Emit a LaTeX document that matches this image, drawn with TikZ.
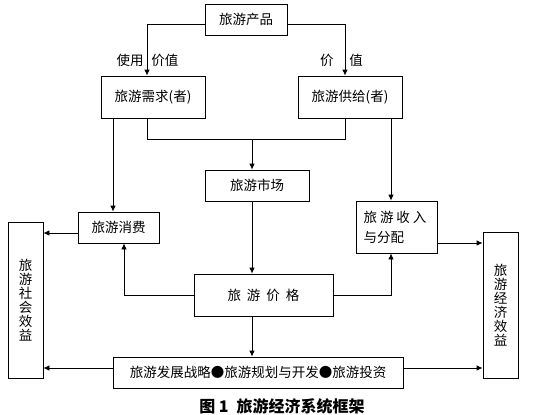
\documentclass[tikz,border=0pt]{standalone}
\usepackage{fontspec}
\setmainfont{Noto Sans CJK SC}
\usetikzlibrary{arrows.meta}
\newcommand{\gap}[1]{\hspace{#1pt}}

\begin{document}
\begin{tikzpicture}[x=1pt,y=-1pt,line width=.8pt,>={Latex[length=6pt,width=5.5pt]},
  box/.style={draw,inner sep=0pt,font=\fontsize{13.5}{15}\selectfont},
  lbl/.style={inner sep=0pt,font=\fontsize{13.5}{15}\selectfont}]
\useasboundingbox (0,0) rectangle (541,415);
% boxes
\node[box,minimum width=82,minimum height=31] (prod) at (246,19.5) {旅游产品};
\node[box,minimum width=104,minimum height=42] (dem) at (153,97) {旅游需求(者)};
\node[box,minimum width=104,minimum height=42] (sup) at (350,97) {旅游供给(者)};
\node[box,minimum width=104,minimum height=31] (mkt) at (257,185.5) {旅游市场};
\node[box,minimum width=81,minimum height=52,align=left,text width=66,
  font=\fontsize{13.5}{20}\selectfont] (inc) at (396.5,227) {旅\gap{3}游\gap{3}收\gap{3}入\\与分配};
\node[box,minimum width=81,minimum height=31] (cons) at (118.5,227.5) {旅游消费};
\node[box,minimum width=139,minimum height=42] (price) at (263.5,295) {旅\gap{6}游\gap{6}价\gap{6}格};
\node[box,minimum width=290,minimum height=31] (dev) at (258,372.5) {旅游发展战略●旅游规划与开发●旅游投资};
\node[box,minimum width=35,minimum height=156,align=center,
  font=\fontsize{13.5}{14}\selectfont] (soc) at (25.5,300) {旅\\游\\社\\会\\效\\益};
\node[box,minimum width=35,minimum height=146,align=center,
  font=\fontsize{13.5}{14}\selectfont] (eco) at (500.5,305) {旅\\游\\经\\济\\效\\益};
% labels
\node[lbl,anchor=east] (l1) at (144,60) {使用};
\node[lbl,anchor=west] (l2) at (151,60) {价值};
\node[lbl,anchor=east] (l3) at (334,60) {价};
\node[lbl,anchor=west] (l4) at (349,60) {值};
\node[font=\fontsize{16}{16}\selectfont\bfseries] (cap) at (282,406) {图 1\enspace 旅游经济系统框架};
% bends
\coordinate (c1) at (147,24);
\coordinate (c2) at (345,24);
\coordinate (j1) at (147,139);
\coordinate (j2) at (345,139);
\coordinate (j3) at (252,139);
\coordinate (x1) at (113,0);
\coordinate (x2) at (391,0);
\coordinate (p1) at (124,295);
\coordinate (p2) at (391,295);
\coordinate (q1) at (0,233);
\coordinate (q2) at (0,243);
\coordinate (q3) at (0,368);
% connectors
\draw[->] (prod.west |- c1) -- (c1) -- (dem.north -| c1);
\draw[->] (prod.east |- c2) -- (c2) -- (sup.north -| c2);
\draw (dem.south -| j1) -- (j1) -- (j2) -- (sup.south -| j2);
\draw[->] (j3) -- (mkt.north -| j3);
\draw[->] (mkt.south -| j3) -- (price.north -| j3);
\draw[->] (price.south -| j3) -- (dev.north -| j3);
\draw[->] (dem.south -| x1) -- (cons.north -| x1);
\draw[->] (sup.south -| x2) -- (inc.north -| x2);
\draw[->] (price.west) -- (p1) -- (cons.south -| p1);
\draw[->] (price.east) -- (p2) -- (inc.south -| p2);
\draw[->] (cons.west |- q1) -- (soc.east |- q1);
\draw[->] (inc.east |- q2) -- (eco.west |- q2);
\draw[->] (dev.west |- q3) -- (soc.east |- q3);
\draw[->] (dev.east |- q3) -- (eco.west |- q3);
\end{tikzpicture}
\end{document}
